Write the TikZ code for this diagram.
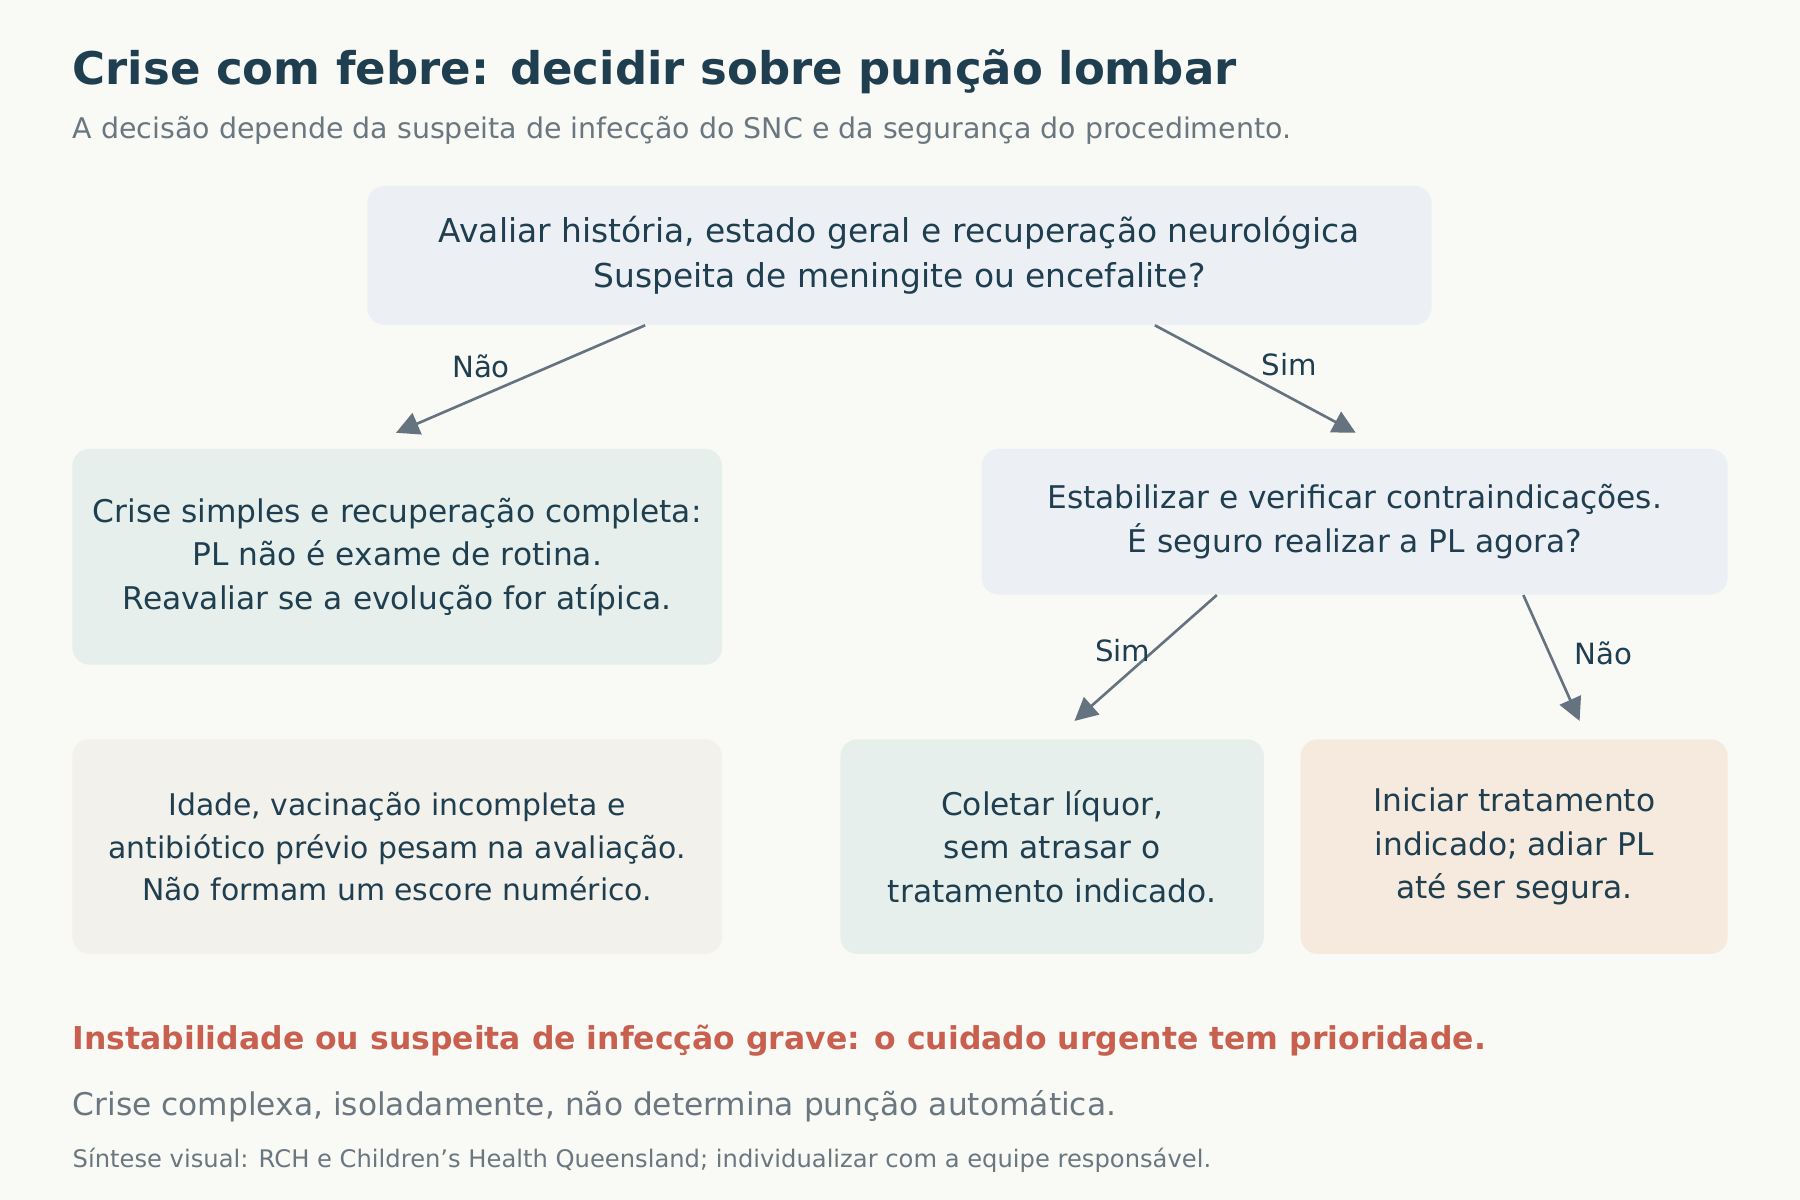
\documentclass[tikz,border=0pt]{standalone}
\usepackage{fontspec}
\setmainfont{DejaVu Sans}
\definecolor{fundo}{HTML}{F9F9F5}
\definecolor{titulo}{HTML}{1F3F50}
\definecolor{cinza}{HTML}{6A7780}
\definecolor{seta}{HTML}{64737F}
\definecolor{vermelho}{HTML}{C9604F}
\definecolor{azul}{HTML}{ECF0F5}
\definecolor{verde}{HTML}{E6EFEB}
\definecolor{bege}{HTML}{F2F1EC}
\definecolor{laranja}{HTML}{F5EADD}
\usetikzlibrary{positioning,arrows.meta}
\begin{document}
\begin{tikzpicture}[x=0.2mm,y=-0.2mm,
    every node/.style={font=\fontsize{15.5}{21.5}\selectfont, text=titulo},
    caixa/.style={draw=none, rounded corners=3mm, align=center, inner sep=0pt},
    seta/.style={draw=seta, line width=1.3pt, -{Triangle[length=4mm,width=4mm]}},
    rotulo/.style={font=\fontsize{14.5}{18}\selectfont},
    texto/.style={anchor=base west, inner sep=0pt}
  ]
  \fill[fundo] (0,0) rectangle (1568,1045);

  % titulos
  \node[texto, font=\fontsize{22.3}{26}\selectfont\bfseries] (tit) at (63,74) {Crise com febre: decidir sobre punção lombar};
  \node[texto, text=cinza, font=\fontsize{14.1}{16}\selectfont] (sub) at (63,121) {A decisão depende da suspeita de infecção do SNC e da segurança do procedimento.};

  % caixas
  \node[caixa, fill=azul, minimum width=927*0.2mm, minimum height=121*0.2mm, font=\fontsize{16.3}{22}\selectfont] (aval) at (783.5,222.5) {Avaliar história, estado geral e recuperação neurológica\\Suspeita de meningite ou encefalite?};
  \node[caixa, fill=verde, minimum width=566*0.2mm, minimum height=188*0.2mm] (simples) at (346,485) {Crise simples e recuperação completa:\\PL não é exame de rotina.\\Reavaliar se a evolução for atípica.};
  \node[caixa, fill=azul, minimum width=650*0.2mm, minimum height=127*0.2mm] (estab) at (1180,454.5) {Estabilizar e verificar contraindicações.\\É seguro realizar a PL agora?};
  \node[caixa, fill=bege, minimum width=566*0.2mm, minimum height=187*0.2mm, font=\fontsize{14.8}{21}\selectfont] (idade) at (346,737.5) {Idade, vacinação incompleta e\\antibiótico prévio pesam na avaliação.\\Não formam um escore numérico.};
  \node[caixa, fill=verde, minimum width=369*0.2mm, minimum height=187*0.2mm] (coletar) at (916.5,737.5) {Coletar líquor,\\sem atrasar o\\tratamento indicado.};
  \node[caixa, fill=laranja, minimum width=372*0.2mm, minimum height=187*0.2mm] (iniciar) at (1319,737.5) {Iniciar tratamento\\indicado; adiar PL\\até ser segura.};

  % pontas das setas
  \coordinate (p1) at (345,377);
  \coordinate (p2) at (1181,377);
  \coordinate (p3) at (936,628);
  \coordinate (p4) at (1376,628);

  \draw[seta] (aval.south -| 562,0) -- (p1);
  \draw[seta] (aval.south -| 1006,0) -- (p2);
  \draw[seta] (estab.south -| 1060,0) -- (p3);
  \draw[seta] (estab.south -| 1327,0) -- (p4);

  \node[rotulo] (nao1) at (419,319) {Não};
  \node[rotulo] (sim1) at (1123,318) {Sim};
  \node[rotulo] (sim2) at (978,567) {Sim};
  \node[rotulo] (nao2) at (1397,569) {Não};

  % notas finais
  \node[texto, text=vermelho, font=\fontsize{15.6}{18}\selectfont\bfseries] (alerta) at (63,914) {Instabilidade ou suspeita de infecção grave: o cuidado urgente tem prioridade.};
  \node[texto, text=cinza, font=\fontsize{15.5}{19}\selectfont] (nota) at (63,972) {Crise complexa, isoladamente, não determina punção automática.};
  \node[texto, text=cinza, font=\fontsize{12}{14}\selectfont] (fonte) at (63,1017) {Síntese visual: RCH e Children’s Health Queensland; individualizar com a equipe responsável.};
\end{tikzpicture}
\end{document}
